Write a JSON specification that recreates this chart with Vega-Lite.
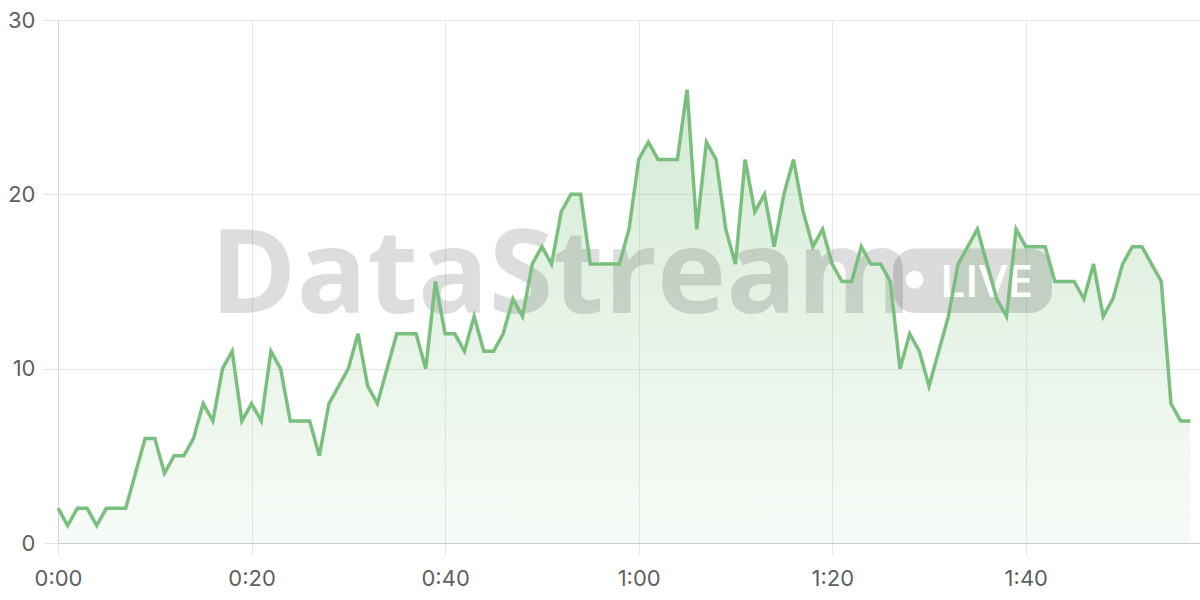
{
  "$schema": "https://vega.github.io/schema/vega-lite/v6.json",
  "width": 1142,
  "height": 523,
  "autosize": {"type": "none"},
  "padding": {"left": 58, "top": 20, "right": 0, "bottom": 57},
  "background": "#ffffff",
  "config": {
    "view": {"stroke": null},
    "axis": {
      "labelFont": "Inter",
      "labelFontSize": 22,
      "labelColor": "#5f5f5f",
      "gridColor": "#e8e8e8",
      "gridWidth": 1,
      "tickColor": "#e6e6e6",
      "domainColor": "#d0d0d0",
      "labelFlush": false,
      "title": null
    }
  },
  "datasets": {
    "series": [
      {"t":0,"v":2},{"t":1,"v":1},{"t":2,"v":2},{"t":3,"v":2},{"t":4,"v":1},{"t":5,"v":2},{"t":6,"v":2},{"t":7,"v":2},{"t":8,"v":4},{"t":9,"v":6},
      {"t":10,"v":6},{"t":11,"v":4},{"t":12,"v":5},{"t":13,"v":5},{"t":14,"v":6},{"t":15,"v":8},{"t":16,"v":7},{"t":17,"v":10},{"t":18,"v":11},{"t":19,"v":7},
      {"t":20,"v":8},{"t":21,"v":7},{"t":22,"v":11},{"t":23,"v":10},{"t":24,"v":7},{"t":25,"v":7},{"t":26,"v":7},{"t":27,"v":5},{"t":28,"v":8},{"t":29,"v":9},
      {"t":30,"v":10},{"t":31,"v":12},{"t":32,"v":9},{"t":33,"v":8},{"t":34,"v":10},{"t":35,"v":12},{"t":36,"v":12},{"t":37,"v":12},{"t":38,"v":10},{"t":39,"v":15},
      {"t":40,"v":12},{"t":41,"v":12},{"t":42,"v":11},{"t":43,"v":13},{"t":44,"v":11},{"t":45,"v":11},{"t":46,"v":12},{"t":47,"v":14},{"t":48,"v":13},{"t":49,"v":16},
      {"t":50,"v":17},{"t":51,"v":16},{"t":52,"v":19},{"t":53,"v":20},{"t":54,"v":20},{"t":55,"v":16},{"t":56,"v":16},{"t":57,"v":16},{"t":58,"v":16},{"t":59,"v":18},
      {"t":60,"v":22},{"t":61,"v":23},{"t":62,"v":22},{"t":63,"v":22},{"t":64,"v":22},{"t":65,"v":26},{"t":66,"v":18},{"t":67,"v":23},{"t":68,"v":22},{"t":69,"v":18},
      {"t":70,"v":16},{"t":71,"v":22},{"t":72,"v":19},{"t":73,"v":20},{"t":74,"v":17},{"t":75,"v":20},{"t":76,"v":22},{"t":77,"v":19},{"t":78,"v":17},{"t":79,"v":18},
      {"t":80,"v":16},{"t":81,"v":15},{"t":82,"v":15},{"t":83,"v":17},{"t":84,"v":16},{"t":85,"v":16},{"t":86,"v":15},{"t":87,"v":10},{"t":88,"v":12},{"t":89,"v":11},
      {"t":90,"v":9},{"t":91,"v":11},{"t":92,"v":13},{"t":93,"v":16},{"t":94,"v":17},{"t":95,"v":18},{"t":96,"v":16},{"t":97,"v":14},{"t":98,"v":13},{"t":99,"v":18},
      {"t":100,"v":17},{"t":101,"v":17},{"t":102,"v":17},{"t":103,"v":15},{"t":104,"v":15},{"t":105,"v":15},{"t":106,"v":14},{"t":107,"v":16},{"t":108,"v":13},{"t":109,"v":14},
      {"t":110,"v":16},{"t":111,"v":17},{"t":112,"v":17},{"t":113,"v":16},{"t":114,"v":15},{"t":115,"v":8},{"t":116,"v":7},{"t":117,"v":7}
    ],
    "brand": [{"label": "DataStream", "t": 15.7, "v": 13.2}],
    "badge": [{"t": 86.3, "t2": 102.7, "v": 13.2, "v2": 16.9}],
    "dot": [{"t": 88.5, "v": 15.1}],
    "live": [{"label": "LIVE", "t": 91.1, "v": 14.1}]
  },
  "layer": [
    {
      "data": {"name": "series"},
      "mark": {
        "type": "area",
        "interpolate": "linear",
        "color": {
          "gradient": "linear",
          "x1": 1, "y1": 1, "x2": 1, "y2": 0,
          "stops": [
            {"offset": 0, "color": "rgba(123,191,126,0.06)"},
            {"offset": 1, "color": "rgba(123,191,126,0.32)"}
          ]
        }
      },
      "encoding": {
        "x": {
          "field": "t", "type": "quantitative",
          "scale": {"domain": [0, 118], "nice": false, "zero": false},
          "axis": {
            "values": [0, 20, 40, 60, 80, 100],
            "labelExpr": "floor(datum.value / 60) + ':' + (datum.value % 60 < 10 ? '0' : '') + (datum.value % 60)",
            "grid": true,
            "tickSize": 12,
            "labelPadding": 13,
            "domainColor": "#cccccc"
          }
        },
        "y": {
          "field": "v", "type": "quantitative",
          "scale": {"domain": [0, 30], "nice": false},
          "axis": {
            "values": [0, 10, 20, 30],
            "grid": true,
            "tickSize": 15,
            "labelPadding": 8,
            "domainColor": "#d6d6d6"
          }
        }
      }
    },
    {
      "data": {"name": "brand"},
      "mark": {
        "type": "text",
        "align": "left",
        "baseline": "alphabetic",
        "font": "Open Sans",
        "fontWeight": "bold",
        "fontSize": 117,
        "color": "#000000",
        "opacity": 0.13
      },
      "encoding": {
        "x": {"field": "t", "type": "quantitative"},
        "y": {"field": "v", "type": "quantitative"},
        "text": {"field": "label"}
      }
    },
    {
      "data": {"name": "badge"},
      "mark": {"type": "rect", "color": "#000000", "opacity": 0.14, "cornerRadius": 22},
      "encoding": {
        "x": {"field": "t", "type": "quantitative"},
        "x2": {"field": "t2"},
        "y": {"field": "v", "type": "quantitative"},
        "y2": {"field": "v2"}
      }
    },
    {
      "data": {"name": "dot"},
      "mark": {"type": "point", "filled": true, "color": "#ffffff", "opacity": 1, "size": 320},
      "encoding": {
        "x": {"field": "t", "type": "quantitative"},
        "y": {"field": "v", "type": "quantitative"}
      }
    },
    {
      "data": {"name": "live"},
      "mark": {
        "type": "text",
        "align": "left",
        "baseline": "alphabetic",
        "font": "Open Sans",
        "fontWeight": 600,
        "fontSize": 46,
        "color": "#ffffff"
      },
      "encoding": {
        "x": {"field": "t", "type": "quantitative"},
        "y": {"field": "v", "type": "quantitative"},
        "text": {"field": "label"}
      }
    },
    {
      "data": {"name": "series"},
      "mark": {"type": "line", "interpolate": "linear", "color": "#7bbf7e", "strokeWidth": 3.5, "strokeJoin": "miter"},
      "encoding": {
        "x": {"field": "t", "type": "quantitative"},
        "y": {"field": "v", "type": "quantitative"}
      }
    }
  ]
}
